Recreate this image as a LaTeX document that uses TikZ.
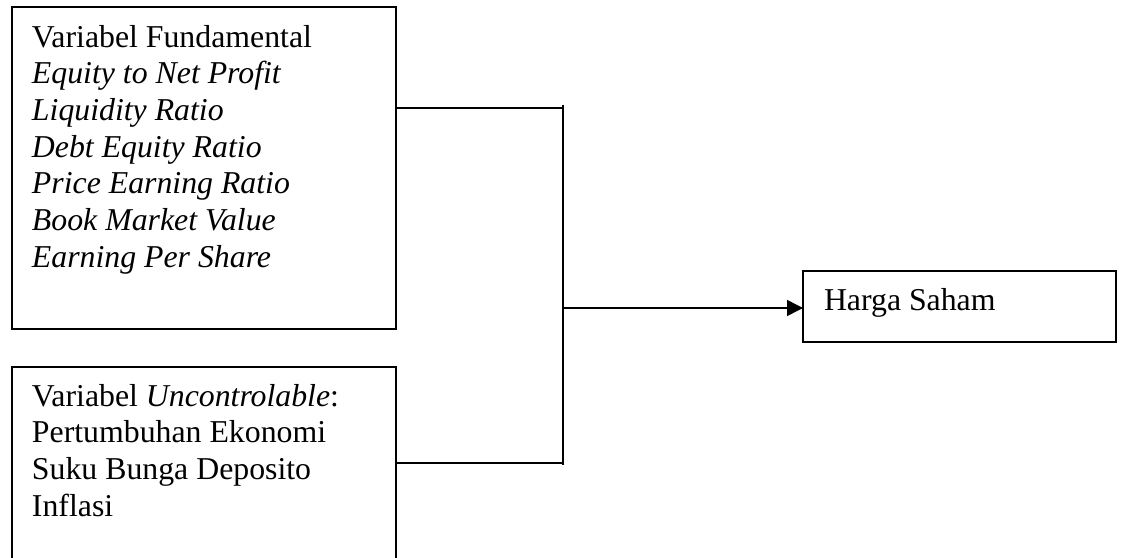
\documentclass[tikz,border=0pt]{standalone}
\usepackage{fontspec}
\setmainfont{Liberation Serif}
\usetikzlibrary{arrows.meta}
\tikzset{
  boxnode/.style={draw, line width=0.75pt, inner sep=0pt, outer sep=0pt},
  txt/.style={inner sep=0pt, outer sep=0pt, align=left, anchor=base west,
    font={\fontsize{15.9}{18.33}\selectfont}},
  link/.style={line width=0.75pt},
}
\begin{document}
\begin{tikzpicture}[x=0.5pt,y=-0.5pt]
\useasboundingbox (0,0) rectangle (1123,557);
\clip (0,0) rectangle (1123,557);
% boxes
\node[boxnode, minimum width=192pt, minimum height=161pt] (fund) at (204,168) {};
\node[boxnode, minimum width=192pt, minimum height=110pt] (unc) at (204,477) {};
\node[boxnode, minimum width=156.5pt, minimum height=35.7pt] (harga) at (959.5,306.5) {};
% texts (anchor = baseline of the last line)
\node[txt] (fundtxt) at (32,267) {Variabel Fundamental\\
\textit{Equity to Net Profit}\\
\textit{Liquidity Ratio}\\
\textit{Debt Equity Ratio}\\
\textit{Price Earning Ratio}\\
\textit{Book Market Value}\\
\textit{Earning Per Share}};
\node[txt] (unctxt) at (32,516) {Variabel \textit{Uncontrolable}:\\
Pertumbuhan Ekonomi\\
Suku Bunga Deposito\\
Inflasi};
\node[txt] (hargatxt) at (824,310) {Harga Saham};
% connectors
\coordinate (jt) at (563,108);
\coordinate (jb) at (563,463);
\coordinate (jm) at (563,308);
\coordinate (vt) at (563,105);
\coordinate (vb) at (563,465);
\draw[link] (fund.east |- jt) -- (jt);
\draw[link] (unc.east |- jb) -- (jb);
\draw[link] (vt) -- (vb);
\draw[link, -{Triangle[length=8pt,width=8pt]}] (jm) -- (harga.west |- jm);
\end{tikzpicture}
\end{document}
